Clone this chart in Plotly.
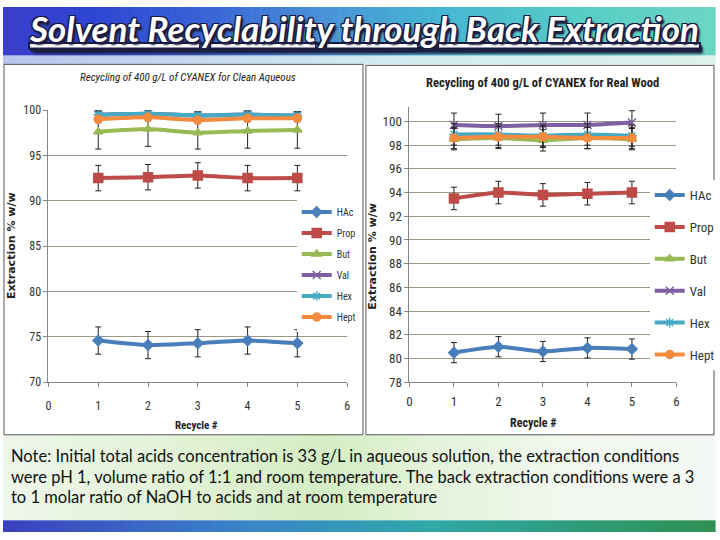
import plotly.graph_objects as go

W, H = 720, 540

# ---------------- data ----------------
recycle = [1, 2, 3, 4, 5]
series_names = ["HAc", "Prop", "But", "Val", "Hex", "Hept"]

clean_vals = {
    "HAc":  [74.6, 74.1, 74.3, 74.6, 74.3],
    "Prop": [92.5, 92.6, 92.8, 92.5, 92.5],
    "But":  [97.6, 97.9, 97.5, 97.7, 97.8],
    "Val":  [99.5, 99.6, 99.4, 99.5, 99.4],
    "Hex":  [99.5, 99.6, 99.4, 99.5, 99.4],
    "Hept": [99.0, 99.2, 98.9, 99.1, 99.1],
}
clean_err = {
    "HAc":  [1.5, 1.5, 1.5, 1.5, 1.5],
    "Prop": [1.4, 1.4, 1.4, 1.4, 1.4],
    "But":  [1.9, 1.9, 1.8, 1.9, 2.0],
    "Val":  [0.4, 0.4, 0.4, 0.4, 0.4],
    "Hex":  [0.4, 0.4, 0.4, 0.4, 0.4],
    "Hept": [0.4, 0.4, 0.4, 0.4, 0.4],
}
wood_vals = {
    "HAc":  [80.5, 81.0, 80.6, 80.9, 80.8],
    "Prop": [93.5, 94.0, 93.8, 93.9, 94.0],
    "But":  [98.5, 98.6, 98.4, 98.6, 98.5],
    "Val":  [99.7, 99.6, 99.7, 99.7, 99.9],
    "Hex":  [98.9, 98.9, 98.8, 98.9, 98.8],
    "Hept": [98.6, 98.7, 98.7, 98.6, 98.6],
}
wood_err = {
    "HAc":  [0.85, 0.85, 0.85, 0.85, 0.85],
    "Prop": [0.95, 0.95, 0.95, 0.95, 0.95],
    "But":  [0.9, 0.9, 0.9, 0.9, 0.9],
    "Val":  [1.0, 1.0, 1.0, 1.0, 1.0],
    "Hex":  [0.9, 0.9, 0.9, 0.9, 0.9],
    "Hept": [0.9, 0.9, 0.9, 0.9, 0.9],
}
x_ticks = [0, 1, 2, 3, 4, 5, 6]
left_y_ticks = [70, 75, 80, 85, 90, 95, 100]
right_y_ticks = [78, 80, 82, 84, 86, 88, 90, 92, 94, 96, 98, 100]

slide_title = "Solvent Recyclability through Back Extraction"
left_title = "Recycling of 400 g/L of CYANEX for Clean Aqueous"
right_title = "Recycling of 400 g/L of CYANEX for Real Wood"
y_title = "Extraction % w/w"
x_title = "Recycle #"
note_lines = [
    "Note: Initial total acids concentration is 33 g/L in aqueous solution, the extraction conditions",
    "were pH 1, volume ratio of 1:1 and room temperature. The back extraction conditions were a 3",
    "to 1 molar ratio of NaOH to acids and at room temperature",
]

# ---------------- styles ----------------
colors = {"HAc": "#4A7EBB", "Prop": "#BE4B48", "But": "#98B954", "Val": "#7D60A0",
          "Hex": "#46AAC5", "Hept": "#F58B3F"}
symbols = {"HAc": "diamond", "Prop": "square", "But": "triangle-up", "Val": "x-thin-open",
           "Hex": "asterisk-open", "Hept": "circle"}
msize = {"HAc": 8, "Prop": 9, "But": 8, "Val": 8, "Hex": 8, "Hept": 8}
NARROW = "Liberation Sans Narrow, Roboto Condensed, Arial Narrow, Lato, sans-serif"


def px(x):
    return x / W


def py(y):
    return 1 - y / H


def hex2rgb(h):
    h = h.lstrip("#")
    return tuple(int(h[i:i + 2], 16) for i in (0, 2, 4))


def interp(stops, t):
    for (t0, c0), (t1, c1) in zip(stops[:-1], stops[1:]):
        if t0 <= t <= t1:
            f = (t - t0) / (t1 - t0) if t1 > t0 else 0
            a, b = hex2rgb(c0), hex2rgb(c1)
            return "rgb(%d,%d,%d)" % tuple(round(a[i] + (b[i] - a[i]) * f) for i in range(3))
    return stops[-1][1]


shapes = []


def hgrad(y0, y1, stops, n=72):
    step = W / n
    for i in range(n):
        c = interp(stops, (i + 0.5) / n)
        shapes.append(dict(type="rect", xref="paper", yref="paper", layer="below",
                           x0=px(i * step), x1=px((i + 1) * step + 0.6),
                           y0=py(y1), y1=py(y0), line=dict(width=0), fillcolor=c))


# background bands
hgrad(0, 50, [(0, "#3B3FCB"), (0.12, "#2E44D2"), (0.3, "#3A67D6"), (0.45, "#4A92D8"),
              (0.6, "#45B4D2"), (0.8, "#56CCC6"), (1.0, "#6CD6C4")])
hgrad(50, 59, [(0, "#B8C4EE"), (0.5, "#D0EAF0"), (1.0, "#DDF2EC")])
hgrad(440, 528, [(0, "#EEF6EA"), (0.25, "#E2F2D6"), (0.45, "#D4EDC4"), (0.6, "#E4F3DA"),
                 (0.8, "#F2F8F0"), (1.0, "#F4F8F4")])
hgrad(528, 540, [(0, "#3A40C0"), (0.35, "#3A86C8"), (0.6, "#30A8A8"), (1.0, "#2E9050")])

# chart panels
shapes.append(dict(type="rect", xref="paper", yref="paper", layer="below",
                   x0=px(1), x1=px(364), y0=py(440), y1=py(59),
                   line=dict(color="#555555", width=1), fillcolor="white"))
shapes.append(dict(type="rect", xref="paper", yref="paper", layer="below",
                   x0=px(367), x1=px(719), y0=py(440), y1=py(60),
                   line=dict(color="#555555", width=1), fillcolor="white"))

fig = go.Figure()


def add_chart(vals, errs, xa, ya, legend):
    for i, name in enumerate(series_names):
        fig.add_trace(go.Scatter(
            x=recycle, y=vals[name], name=name, xaxis=xa, yaxis=ya, legend=legend,
            legendgroup=legend + name, mode="lines+markers",
            line=dict(color=colors[name], width=4, shape="spline", smoothing=0.6),
            marker=dict(symbol=symbols[name], size=msize[name], color=colors[name],
                        line=dict(color=colors[name], width=1.5)),
            error_y=dict(type="data", array=errs[name], visible=True,
                         color="#222222", thickness=1, width=3),
            hoverinfo="skip",
        ))


add_chart(clean_vals, clean_err, "x", "y", "legend")
add_chart(wood_vals, wood_err, "x2", "y2", "legend2")

axis_common = dict(showline=True, linecolor="#868686", linewidth=1, ticks="outside",
                   ticklen=4, tickcolor="#868686", zeroline=False)

fig.update_layout(
    width=W, height=H, margin=dict(l=0, r=0, t=0, b=0),
    paper_bgcolor="white", plot_bgcolor="#FEFDD0",
    showlegend=True,
    xaxis=dict(domain=[px(46), px(348)], range=[0, 6], tickvals=x_ticks, showgrid=False,
               anchor="y", ticklabelstandoff=8,
               tickfont=dict(family=NARROW, size=12, color="#333333"), **axis_common),
    yaxis=dict(domain=[py(386), py(106)], range=[70, 100], tickvals=left_y_ticks,
               showgrid=True, gridcolor="#9A9A86", gridwidth=1, anchor="x",
               tickfont=dict(family=NARROW, size=12, color="#333333"), **axis_common),
    xaxis2=dict(domain=[px(411), px(681)], range=[0, 6], tickvals=x_ticks, showgrid=False,
                anchor="y2", ticklabelstandoff=3,
                tickfont=dict(family=NARROW, size=13, color="#333333"), **axis_common),
    yaxis2=dict(domain=[py(386), py(103)], range=[78, 101.2], tickvals=right_y_ticks,
                showgrid=True, gridcolor="#9A9A86", gridwidth=1, anchor="x2",
                tickfont=dict(family=NARROW, size=13, color="#333333"), **axis_common),
    legend=dict(x=px(297), y=py(196), xanchor="left", yanchor="top", bgcolor="white",
                font=dict(family=NARROW, size=10, color="#333333"), tracegroupgap=2,
                itemwidth=30),
    legend2=dict(x=px(654), y=py(178), xanchor="left", yanchor="top", bgcolor="white",
                 font=dict(family=NARROW, size=13, color="#333333"), tracegroupgap=12,
                 itemwidth=30),
    shapes=shapes,
)

ann = []
ann.append(dict(text="<u>" + slide_title + "</u>", x=px(365), y=py(22), xref="paper",
                yref="paper", showarrow=False, xanchor="center", yanchor="middle",
                font=dict(family="Lato, sans-serif", size=35, color="white",
                          weight="bold", style="italic",
                          shadow="1px 1px 0 #1a1a40, -1px -1px 0 #1a1a40, 1px -1px 0 #1a1a40, -1px 1px 0 #1a1a40, 2px 3px 2px #202040")))
ann.append(dict(text=left_title, x=px(187), y=py(73), xref="paper", yref="paper",
                showarrow=False, xanchor="center", yanchor="middle",
                font=dict(family=NARROW, size=11, color="#222222", style="italic")))
ann.append(dict(text=right_title, x=px(546), y=py(78), xref="paper", yref="paper",
                showarrow=False, xanchor="center", yanchor="middle",
                font=dict(family=NARROW, size=12.5, color="#222222", weight="bold")))
for xx, yy, sz in [(8, 245, 11), (374, 256, 11)]:
    ann.append(dict(text=y_title, x=px(xx), y=py(yy), xref="paper", yref="paper",
                    showarrow=False, textangle=-90, xanchor="center", yanchor="middle",
                    font=dict(family="DejaVu Sans, sans-serif", size=sz, color="#222222",
                              weight="bold")))
for xx, yy, sz in [(196, 430, 11), (536, 428, 12)]:
    ann.append(dict(text=x_title, x=px(xx), y=py(yy), xref="paper", yref="paper",
                    showarrow=False, xanchor="center", yanchor="middle",
                    font=dict(family=NARROW, size=sz, color="#222222", weight="bold")))
for i, line in enumerate(note_lines):
    ann.append(dict(text=line, x=px(6), y=py(462 + 21 * i), xref="paper", yref="paper",
                    showarrow=False, xanchor="left", yanchor="middle",
                    font=dict(family="Lato, sans-serif", size=16.5, color="#111111")))
fig.update_layout(annotations=ann)

fig.write_html("out.html")
